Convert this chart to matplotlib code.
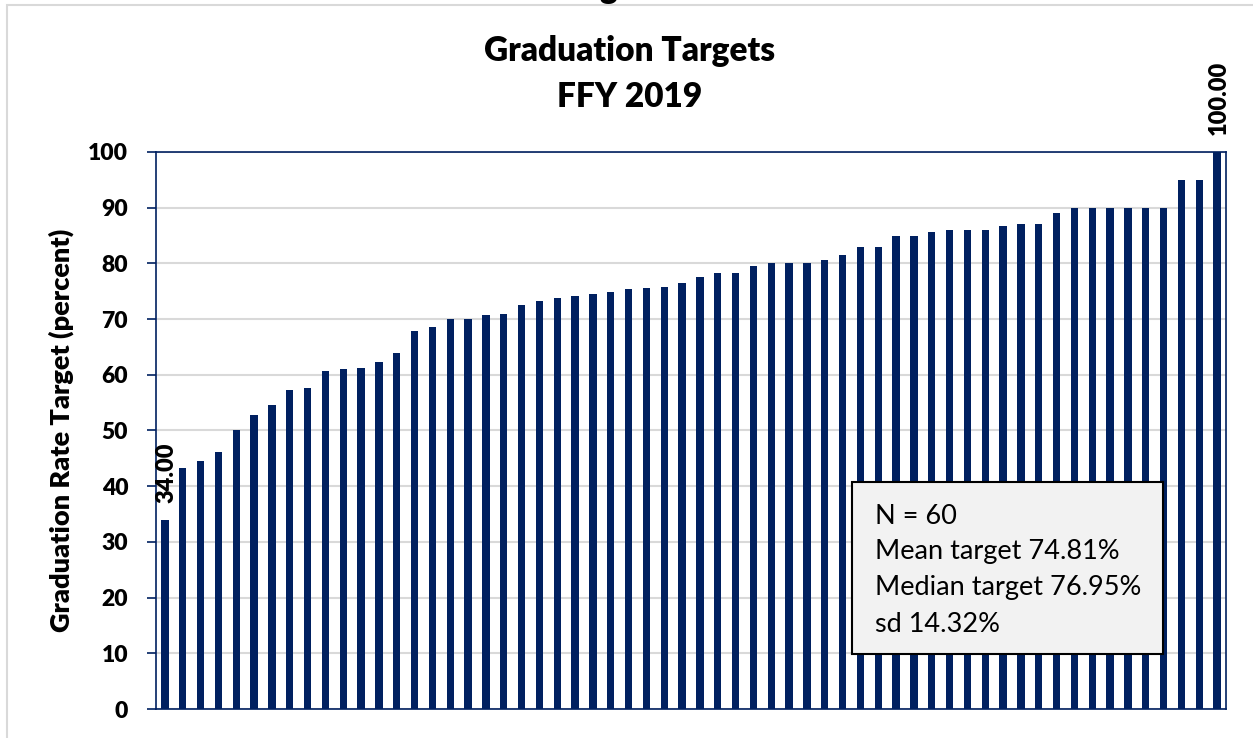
import matplotlib.pyplot as plt
from matplotlib.patches import Rectangle

plt.rcParams['font.family'] = ['Lato', 'DejaVu Sans']

# graduation rate targets, sorted (60 states / entities)
targets = [34.00, 43.2, 44.6, 46.1, 50.1, 52.8, 54.5, 57.2, 57.6, 60.7,
           61.0, 61.3, 62.3, 64.0, 67.9, 68.5, 70.0, 70.1, 70.7, 71.0,
           72.6, 73.3, 73.8, 74.2, 74.5, 74.8, 75.4, 75.6, 75.8, 76.4,
           77.5, 78.2, 78.2, 79.6, 80.0, 80.0, 80.0, 80.7, 81.5, 82.9,
           82.9, 85.0, 85.0, 85.7, 86.0, 86.0, 86.0, 86.7, 87.0, 87.0,
           89.0, 90.0, 90.0, 90.0, 90.0, 90.0, 90.0, 95.0, 95.0, 100.00]
yticks = [0, 10, 20, 30, 40, 50, 60, 70, 80, 90, 100]
stats_lines = ['N = 60', 'Mean target 74.81%', 'Median target 76.95%', 'sd 14.32%']

W, H = 1253, 738
navy = '#002060'
bold = 'heavy'
fig = plt.figure(figsize=(W / 100, H / 100), dpi=100)
ax = fig.add_axes([156 / W, 1 - 709 / H, 1070 / W, 557 / H])

x = list(range(len(targets)))
ax.bar(x, targets, width=0.41, color=navy, zorder=3)
ax.set_xlim(-0.5, len(targets) - 0.5)
ax.set_ylim(0, 100)
ax.set_yticks(yticks)
ax.set_xticks([])
ax.grid(axis='y', color='#D9D9D9', linewidth=1.5, zorder=0)
for s in ax.spines.values():
    s.set_color(navy)
    s.set_linewidth(1.2)
ax.tick_params(axis='y', length=6.5, width=1.2, color=navy, pad=13.5,
               labelsize=16.5)
for lab in ax.get_yticklabels():
    lab.set_fontweight(bold)

# labels on min / max bars
for i in (0, len(targets) - 1):
    ax.annotate(f'{targets[i]:.2f}', (x[i], targets[i]), xytext=(1, 12),
                textcoords='offset points', rotation=90, ha='center',
                va='bottom', fontsize=17, fontweight=bold,
                annotation_clip=False)

fig.text(61 / W, 1 - 430 / H, 'Graduation Rate Target (percent)', rotation=90,
         ha='center', va='center', fontsize=19.5, fontweight=bold)

fig.text(630 / W, 1 - 51 / H, 'Graduation Targets', ha='center', va='center',
         fontsize=24, fontweight=bold)
fig.text(630 / W, 1 - 97 / H, 'FFY 2019', ha='center', va='center',
         fontsize=24, fontweight=bold)
# cut-off remnant of a title above the frame
fig.text(608 / W, 1.0 + 2 / H, 'g', ha='center', va='baseline',
         fontsize=24, fontweight=bold)

# outer chart frame
fig.patches.append(Rectangle((7 / W, -0.1), 1.2, 1 - 5 / H + 0.1,
                             transform=fig.transFigure, fill=False,
                             edgecolor='#D9D9D9', linewidth=1.5))

# stats box
fig.patches.append(Rectangle((852 / W, 1 - 654 / H), 311 / W, 172 / H,
                             transform=fig.transFigure, facecolor='#F2F2F2',
                             edgecolor='black', linewidth=1.5, zorder=5))
for k, line in enumerate(stats_lines):
    fig.text(875 / W, 1 - (516 + 36 * k) / H, line, ha='left', va='center',
             fontsize=19.5, zorder=6)

fig.savefig('out.png', dpi=100)
